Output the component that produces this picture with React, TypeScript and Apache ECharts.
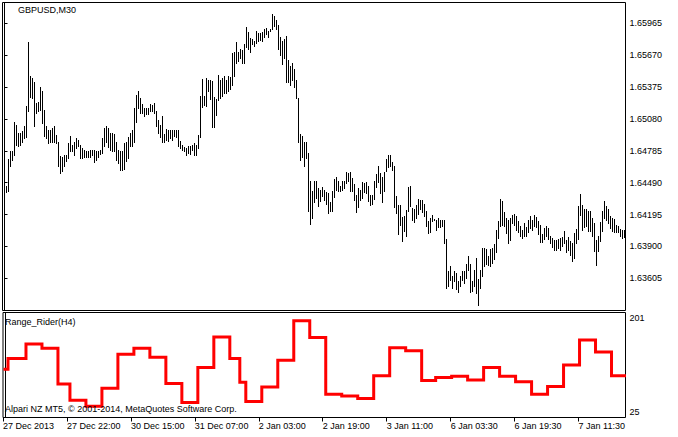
import React, { useEffect, useRef } from "react";
import * as echarts from "echarts";

// GBPUSD M30 bars: high / low of each bar (bar index 0..310)
const highs = [
  1.64440, 1.64455, 1.64708, 1.64779, 1.64779, 1.65047, 1.65025, 1.64948, 1.64948, 1.64964,
  1.65016, 1.65195, 1.65790, 1.65479, 1.65457, 1.65426, 1.65226, 1.65241, 1.65374, 1.65334,
  1.65164, 1.65016, 1.64979, 1.64979, 1.64995, 1.65016, 1.64933, 1.64871, 1.64739, 1.64732,
  1.64748, 1.64748, 1.64856, 1.64924, 1.64840, 1.64871, 1.64902, 1.64887, 1.64840, 1.64810,
  1.64794, 1.64779, 1.64779, 1.64794, 1.64794, 1.64794, 1.64779, 1.64779, 1.64794, 1.64902,
  1.64995, 1.65016, 1.64995, 1.64954, 1.64948, 1.64942, 1.64871, 1.64794, 1.64779, 1.64779,
  1.64856, 1.64862, 1.64917, 1.64948, 1.64979, 1.65179, 1.65303, 1.65340, 1.65272, 1.65220,
  1.65179, 1.65179, 1.65179, 1.65220, 1.65210, 1.65226, 1.65149, 1.65072, 1.65025, 1.65109,
  1.64942, 1.64985, 1.64973, 1.64979, 1.64973, 1.64979, 1.64973, 1.64973, 1.64880, 1.64840,
  1.64819, 1.64810, 1.64831, 1.64825, 1.64840, 1.64856, 1.64840, 1.64933, 1.65294, 1.65451,
  1.65294, 1.65457, 1.65442, 1.65442, 1.65432, 1.65281, 1.65263, 1.65488, 1.65442, 1.65457,
  1.65479, 1.65442, 1.65479, 1.65472, 1.65688, 1.65704, 1.65790, 1.65704, 1.65725, 1.65719,
  1.65775, 1.65929, 1.65886, 1.65827, 1.65818, 1.65802, 1.65895, 1.65879, 1.65879, 1.65889,
  1.65910, 1.65919, 1.65898, 1.65910, 1.66052, 1.66034, 1.65997, 1.65950, 1.65842, 1.65805,
  1.65818, 1.65849, 1.65627, 1.65571, 1.65596, 1.65540, 1.65442, 1.65272, 1.64942, 1.64924,
  1.64871, 1.64871, 1.64763, 1.64507, 1.64409, 1.64501, 1.64510, 1.64440, 1.64424, 1.64446,
  1.64424, 1.64400, 1.64393, 1.64307, 1.64415, 1.64526, 1.64538, 1.64510, 1.64455, 1.64507,
  1.64501, 1.64588, 1.64578, 1.64588, 1.64532, 1.64480, 1.64378, 1.64440, 1.64424, 1.64495,
  1.64486, 1.64492, 1.64461, 1.64378, 1.64378, 1.64507, 1.64572, 1.64646, 1.64578, 1.64547,
  1.64588, 1.64711, 1.64748, 1.64748, 1.64680, 1.64640, 1.64369, 1.64285, 1.64285, 1.64171,
  1.64177, 1.64239, 1.64449, 1.64455, 1.64255, 1.64245, 1.64285, 1.64338, 1.64332, 1.64332,
  1.64295, 1.64230, 1.64131, 1.64162, 1.64193, 1.64153, 1.64140, 1.64162, 1.64147, 1.64147,
  1.64147, 1.63968, 1.63669, 1.63715, 1.63623, 1.63675, 1.63653, 1.63576, 1.63623, 1.63675,
  1.63669, 1.63737, 1.63808, 1.63740, 1.63576, 1.63684, 1.63792, 1.63598, 1.63684, 1.63885,
  1.63885, 1.63875, 1.63814, 1.63875, 1.63885, 1.63922, 1.64054, 1.64137, 1.64338, 1.64325,
  1.64215, 1.64162, 1.64140, 1.64162, 1.64193, 1.64202, 1.64177, 1.64131, 1.64085, 1.64054,
  1.64116, 1.64079, 1.64140, 1.64184, 1.64140, 1.64193, 1.64171, 1.64131, 1.64100, 1.64017,
  1.64070, 1.64085, 1.64070, 1.63993, 1.63977, 1.63962, 1.63956, 1.63968, 1.63977, 1.63983,
  1.64039, 1.63962, 1.63986, 1.63946, 1.63931, 1.64023, 1.64060, 1.64270, 1.64387, 1.64285,
  1.64248, 1.64245, 1.64224, 1.64224, 1.64162, 1.64116, 1.63962, 1.63993, 1.64122, 1.64224,
  1.64325, 1.64270, 1.64245, 1.64177, 1.64162, 1.64153, 1.64100, 1.64091, 1.64060, 1.64054,
  1.64054,
];
const lows = [
  1.64393, 1.64400, 1.64409, 1.64640, 1.64702, 1.64748, 1.64840, 1.64825, 1.64840, 1.64871,
  1.64902, 1.64917, 1.65149, 1.65287, 1.65272, 1.65010, 1.65133, 1.65149, 1.65164, 1.65041,
  1.64924, 1.64902, 1.64856, 1.64862, 1.64871, 1.64871, 1.64856, 1.64640, 1.64578, 1.64594,
  1.64640, 1.64686, 1.64717, 1.64779, 1.64779, 1.64748, 1.64810, 1.64825, 1.64717, 1.64717,
  1.64732, 1.64732, 1.64732, 1.64732, 1.64748, 1.64677, 1.64702, 1.64732, 1.64757, 1.64769,
  1.64825, 1.64871, 1.64819, 1.64794, 1.64779, 1.64779, 1.64702, 1.64671, 1.64603, 1.64609,
  1.64615, 1.64686, 1.64717, 1.64825, 1.64825, 1.64871, 1.65056, 1.65179, 1.65133, 1.65133,
  1.65109, 1.65127, 1.65127, 1.65149, 1.65149, 1.65133, 1.65016, 1.64948, 1.64917, 1.64862,
  1.64871, 1.64887, 1.64880, 1.64902, 1.64887, 1.64924, 1.64917, 1.64831, 1.64810, 1.64794,
  1.64779, 1.64748, 1.64769, 1.64757, 1.64794, 1.64748, 1.64742, 1.64810, 1.64911, 1.65189,
  1.65210, 1.65204, 1.65343, 1.65263, 1.65004, 1.65004, 1.65118, 1.65257, 1.65272, 1.65294,
  1.65318, 1.65324, 1.65343, 1.65355, 1.65395, 1.65479, 1.65596, 1.65620, 1.65642, 1.65596,
  1.65596, 1.65750, 1.65725, 1.65704, 1.65775, 1.65756, 1.65787, 1.65805, 1.65812, 1.65805,
  1.65842, 1.65867, 1.65842, 1.65898, 1.65910, 1.65941, 1.65910, 1.65725, 1.65673, 1.65586,
  1.65642, 1.65426, 1.65426, 1.65395, 1.65442, 1.65380, 1.65272, 1.64862, 1.64702, 1.64732,
  1.64640, 1.64717, 1.64224, 1.64107, 1.64162, 1.64307, 1.64347, 1.64276, 1.64325, 1.64369,
  1.64332, 1.64295, 1.64208, 1.64224, 1.64224, 1.64356, 1.64424, 1.64409, 1.64409, 1.64424,
  1.64440, 1.64486, 1.64510, 1.64409, 1.64415, 1.64332, 1.64215, 1.64264, 1.64332, 1.64347,
  1.64400, 1.64393, 1.64325, 1.64285, 1.64295, 1.64338, 1.64449, 1.64492, 1.64393, 1.64307,
  1.64409, 1.64594, 1.64634, 1.64640, 1.64603, 1.64261, 1.64208, 1.64014, 1.64100, 1.63946,
  1.64039, 1.63993, 1.64224, 1.64270, 1.64140, 1.64122, 1.64162, 1.64202, 1.64245, 1.64215,
  1.64177, 1.64085, 1.64023, 1.64030, 1.64131, 1.64140, 1.64048, 1.64079, 1.64079, 1.64085,
  1.63931, 1.63515, 1.63536, 1.63592, 1.63515, 1.63576, 1.63505, 1.63475, 1.63530, 1.63592,
  1.63561, 1.63607, 1.63684, 1.63475, 1.63484, 1.63530, 1.63468, 1.63361, 1.63515, 1.63623,
  1.63715, 1.63740, 1.63730, 1.63721, 1.63746, 1.63783, 1.63845, 1.63977, 1.64085, 1.64100,
  1.64091, 1.64023, 1.63931, 1.63962, 1.64116, 1.64100, 1.64054, 1.64030, 1.63999, 1.63977,
  1.63993, 1.63993, 1.64030, 1.64070, 1.64048, 1.64091, 1.64079, 1.64017, 1.63937, 1.63937,
  1.63968, 1.63993, 1.63968, 1.63931, 1.63894, 1.63869, 1.63869, 1.63885, 1.63863, 1.63900,
  1.63931, 1.63845, 1.63869, 1.63823, 1.63761, 1.63792, 1.63931, 1.63968, 1.64193, 1.64054,
  1.64079, 1.64085, 1.64039, 1.64039, 1.63993, 1.63854, 1.63730, 1.63854, 1.63946, 1.64039,
  1.64162, 1.64140, 1.64116, 1.64070, 1.64039, 1.64030, 1.64030, 1.64030, 1.63999, 1.63977,
  1.63986,
];

const priceTicks = [1.63605, 1.639, 1.64195, 1.6449, 1.64785, 1.6508, 1.65375, 1.6567, 1.65965];
const timeTickBars = [-1, 31, 63, 95, 127, 159, 191, 223, 255, 287];
const timeTickLabels = [
  "27 Dec 2013", "27 Dec 22:00", "30 Dec 15:00", "31 Dec 07:00", "2 Jan 03:00",
  "2 Jan 19:00", "3 Jan 11:00", "6 Jan 03:30", "6 Jan 19:30", "7 Jan 11:30",
];

// Range_Rider(H4): first M30 bar of each H4 step, and the step's value
const rrStepStart = [
  0, 2, 11, 19, 27, 33, 41, 49, 57, 65, 73, 81, 89, 97, 105, 113, 118, 121, 129, 137,
  145, 153, 161, 169, 177, 185, 193, 201, 209, 216, 224, 232, 240, 248, 256, 264, 272, 280, 288, 296, 304,
];
const rrStepValue = [
  106, 124, 148, 141, 81, 54, 44, 74, 131, 141, 126, 82, 50, 109, 160, 124, 84, 52, 76, 121,
  187, 159, 64, 61, 57, 95, 142, 137, 87, 92, 94, 88, 109, 94, 85, 64, 77, 113, 155, 135, 95,
];
const rrTicks = [25, 201];

const FONT = "Liberation Sans";

export default function App() {
  const ref = useRef<HTMLDivElement>(null);
  useEffect(() => {
    const chart = echarts.init(ref.current as HTMLDivElement, null, { renderer: "svg" });
    const bars = highs.map((h, i) => [i, h, lows[i]]);
    const rr = highs.map((_, i) => {
      let k = 0;
      for (let s = 0; s < rrStepStart.length; s++) if (rrStepStart[s] <= i) k = s;
      return [i, rrStepValue[k]];
    });
    const txt = (s: string, x: number, y: number) => ({
      type: "text",
      x,
      y,
      z: 100,
      style: { text: s, font: `9px "${FONT}"`, fill: "#000", verticalAlign: "middle" },
    });
    chart.setOption({
      animation: false,
      backgroundColor: "#fff",
      grid: [
        { left: 2.5, top: 2.5, width: 623, height: 308, show: true, borderColor: "#000", borderWidth: 1 },
        { left: 2.5, top: 312.5, width: 623, height: 105, show: true, borderColor: "#000", borderWidth: 1 },
      ],
      xAxis: [
        { type: "value", gridIndex: 0, min: -1, max: 310.5, show: false },
        {
          type: "value",
          gridIndex: 1,
          min: -1,
          max: 310.5,
          axisLine: { show: false },
          splitLine: { show: false },
          axisTick: { show: true, customValues: timeTickBars, length: 4, lineStyle: { color: "#000" } },
          axisLabel: {
            customValues: timeTickBars,
            formatter: (v: number) => {
              const k = timeTickBars.indexOf(v);
              return k >= 0 ? timeTickLabels[k] : "";
            },
            align: "left",
            margin: 4,
            color: "#000",
            fontFamily: FONT,
            fontSize: 9,
          },
        },
      ],
      yAxis: [
        {
          type: "value",
          gridIndex: 0,
          position: "right",
          min: 1.63307,
          max: 1.661575,
          axisLine: { show: true, lineStyle: { color: "#000" } },
          axisTick: { show: true, customValues: priceTicks, length: 3, lineStyle: { color: "#000" } },
          axisLabel: {
            customValues: priceTicks,
            formatter: (v: number) => v.toFixed(5),
            margin: 4,
            color: "#000",
            fontFamily: FONT,
            fontSize: 9,
          },
          splitLine: { show: false },
        },
        {
          type: "value",
          gridIndex: 1,
          position: "right",
          min: 25,
          max: 201,
          axisLine: { show: true, lineStyle: { color: "#000" } },
          axisTick: { show: true, customValues: rrTicks, length: 3, lineStyle: { color: "#000" } },
          axisLabel: {
            customValues: rrTicks,
            formatter: (v: number) => (v === rrTicks[1] ? `{top|${v}}` : `{bot|${v}}`),
            margin: 4,
            color: "#000",
            fontFamily: FONT,
            fontSize: 9,
            rich: {
              top: { padding: [11, 0, 0, 0], color: "#000", fontFamily: FONT, fontSize: 9 },
              bot: { padding: [0, 0, 11, 0], color: "#000", fontFamily: FONT, fontSize: 9 },
            },
          },
          splitLine: { show: false },
        },
      ],
      series: [
        {
          type: "custom",
          xAxisIndex: 0,
          yAxisIndex: 0,
          data: bars,
          encode: { x: 0, y: [1, 2] },
          silent: true,
          renderItem: (_p: any, api: any) => {
            const i = api.value(0);
            const a = api.coord([i, api.value(1)]);
            const b = api.coord([i, api.value(2)]);
            const x = Math.floor(a[0]) + 0.5;
            return {
              type: "line",
              shape: { x1: x, y1: Math.round(a[1]), x2: x, y2: Math.round(b[1]) + 1 },
              style: { stroke: "#000", lineWidth: 1 },
            };
          },
        },
        {
          type: "line",
          xAxisIndex: 1,
          yAxisIndex: 1,
          data: rr,
          step: "middle",
          symbol: "none",
          silent: true,
          lineStyle: { color: "#ff0000", width: 3, join: "miter", cap: "square" },
        },
      ],
      graphic: [
        txt("GBPUSD,M30", 18, 10),
        txt("Range_Rider(H4)", 5, 322),
        txt("Alpari NZ MT5, \u00a9 2001-2014, MetaQuotes Software Corp.", 5, 409),
      ],
    });
    return () => chart.dispose();
  }, []);
  return (
    <div
      ref={ref}
      style={{ position: "fixed", left: 0, top: 0, width: 678, height: 437, background: "#fff" }}
    />
  );
}
